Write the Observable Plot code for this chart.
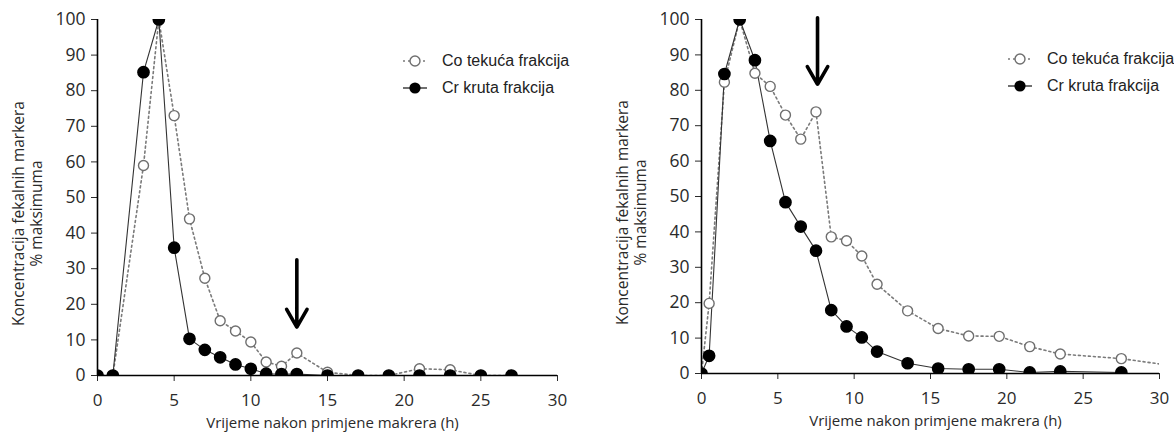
<!DOCTYPE html>
<html><head><meta charset="utf-8">
<script src="https://cdn.jsdelivr.net/npm/d3@7"></script>
<script src="https://cdn.jsdelivr.net/npm/@observablehq/plot@0.6"></script>
<style>
body{margin:0;background:#fff;}
#wrap{display:flex;width:1174px;height:439px;}
.panel{position:relative;width:587px;height:439px;}
.legend{position:absolute;font-family:"Liberation Sans",Arial,sans-serif;font-size:16px;color:#222;}
.legend .row{display:flex;align-items:center;height:27px;white-space:nowrap;}
.legend svg{margin-right:14px;}
</style></head><body>
<div id="wrap"><div class="panel" id="p1"></div><div class="panel" id="p2"></div></div>
<script>
// Left panel
const leftHours = [0,1,3,4,5,6,7,8,9,10,11,12,13,15,17,19,21,23,25,27];
const leftCo    = [0,0,59,100,73,44,27.3,15.4,12.5,9.4,3.8,2.6,6.3,0.9,0,0,1.9,1.6,0,0];
const leftCr    = [0,0,85.2,100,35.9,10.3,7.2,5.1,3.1,1.9,0.5,0.4,0.4,0,0,0,0,0,0,0];
const leftArrow = {x: 13, from: 32.5, to: 13.6};
// Right panel
const rightCoHours = [0,0.5,1.5,2.5,3.5,4.5,5.5,6.5,7.5,8.5,9.5,10.5,11.5,13.5,15.5,17.5,19.5,21.5,23.5,27.5,31.5];
const rightCo      = [0,19.8,82.3,100,84.8,81.1,73,66.2,73.9,38.6,37.5,33.2,25.2,17.7,12.7,10.6,10.5,7.6,5.5,4.2,1.8];
const rightCrHours = [0,0.5,1.5,2.5,3.5,4.5,5.5,6.5,7.5,8.5,9.5,10.5,11.5,13.5,15.5,17.5,19.5,21.5,23.5,27.5];
const rightCr      = [0,5,84.6,100,88.5,65.7,48.4,41.5,34.7,17.9,13.3,10.2,6.2,2.9,1.4,1.2,1.2,0.3,0.6,0.3];
const rightArrow = {x: 7.6, from: 100.5, to: 81.7};
// Labels
const seriesNames = ["Co tekuća frakcija", "Cr kruta frakcija"];
const xTitle = "Vrijeme nakon primjene makrera (h)";
const yTitle = "Koncentracija fekalnih markera\n% maksimuma";
const xTicks = [0,5,10,15,20,25,30];
const yTicks = [0,10,20,30,40,50,60,70,80,90,100];

function rows(xs, ys){ return xs.map((x,i)=>({x, y: ys[i]})); }

function panel({co, cr, arrow, marginLeft, marginRight, marginBottom}){
  return Plot.plot({
    width: 587, height: 439,
    marginLeft, marginRight, marginTop: 19, marginBottom,
    style: {fontFamily: "Open Sans", background: "white", overflow: "visible", color: "#2a2a2a"},
    x: {domain: [0,30]},
    y: {domain: [0,100]},
    marks: [
      Plot.axisY({ticks: yTicks, tickSize: 6, tickPadding: 6, fontSize: 17.5, label: null, color: "#2a2a2a"}),
      Plot.axisX({ticks: xTicks, tickSize: 6, tickPadding: 12, fontSize: 17, label: null, color: "#2a2a2a"}),
      Plot.line(co, {x: "x", y: "y", stroke: "#7a7a7a", strokeWidth: 1.6, strokeDasharray: "2,3", clip: true}),
      Plot.line(cr, {x: "x", y: "y", stroke: "#333", strokeWidth: 1.1, clip: true}),
      Plot.ruleX([0], {y1: 0, y2: 100, stroke: "#000", strokeWidth: 1.6}),
      Plot.ruleY([0], {x1: 0, x2: 30, stroke: "#000", strokeWidth: 1.6}),
      Plot.dot(co, {x: "x", y: "y", r: 5, fill: "white", stroke: "#6f6f6f", strokeWidth: 1.4, clip: true}),
      Plot.dot(cr, {x: "x", y: "y", r: 5.6, fill: "#000", stroke: "#000", clip: true}),
      Plot.arrow([arrow], {x1: "x", x2: "x", y1: "from", y2: "to", stroke: "#000", strokeWidth: 3.6, headLength: 8.5}),
      Plot.text([xTitle], {frameAnchor: "bottom", dy: 48, dx: 5, lineAnchor: "middle", fontSize: 15, fill: "#2a2a2a"}),
      Plot.text([yTitle], {frameAnchor: "left", dx: -70, dy: 16, rotate: -90, textAnchor: "middle", lineAnchor: "middle", lineHeight: 1.15, fontSize: 15.5, fill: "#2a2a2a"})
    ]
  });
}

function legend(left, top){
  const d = document.createElement("div");
  d.className = "legend";
  d.style.left = left + "px"; d.style.top = top + "px";
  d.innerHTML =
    `<div class="row"><svg width="26" height="14"><line x1="1" x2="25" y1="7" y2="7" stroke="#7a7a7a" stroke-width="1.6" stroke-dasharray="2,3"/><circle cx="13" cy="7" r="5" fill="white" stroke="#6f6f6f" stroke-width="1.4"/></svg>${seriesNames[0]}</div>` +
    `<div class="row"><svg width="26" height="14"><line x1="1" x2="25" y1="7" y2="7" stroke="#333" stroke-width="1.4"/><circle cx="13" cy="7" r="5.6" fill="#000"/></svg>${seriesNames[1]}</div>`;
  return d;
}

const p1 = document.getElementById("p1");
p1.appendChild(panel({co: rows(leftHours, leftCo), cr: rows(leftHours, leftCr), arrow: leftArrow, marginLeft: 97, marginRight: 30, marginBottom: 64}));
p1.appendChild(legend(402, 47.5));
const p2 = document.getElementById("p2");
p2.appendChild(panel({co: rows(rightCoHours, rightCo), cr: rows(rightCrHours, rightCr), arrow: rightArrow, marginLeft: 114, marginRight: 15, marginBottom: 66}));
p2.appendChild(legend(420, 45.5));
</script>
</body></html>
